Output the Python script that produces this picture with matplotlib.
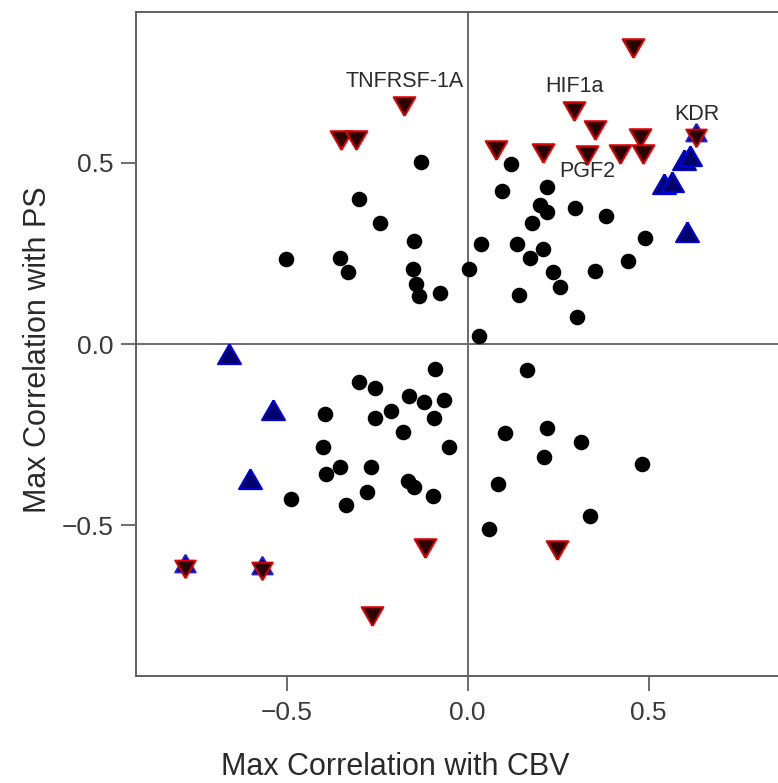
import matplotlib.pyplot as plt

plt.rcParams['font.family'] = ['Liberation Sans', 'DejaVu Sans']

# genes with no significant correlation
dots_cbv = [-0.129, -0.300, -0.242, -0.147, -0.501, -0.353, -0.331, -0.152, -0.142, -0.135,
            -0.076, 0.004, 0.121, 0.096, 0.218, 0.200, 0.220, 0.296, 0.383, 0.177,
            0.491, 0.037, 0.135, 0.208, 0.172, 0.442, 0.237, 0.353, 0.254, 0.142,
            0.301, 0.032,
            -0.089, -0.301, -0.257, -0.163, -0.121, -0.064, -0.211, -0.395, -0.255, -0.092,
            -0.179, -0.051, -0.399, -0.354, -0.390, -0.268, -0.164, -0.147, -0.277, -0.096,
            -0.487, -0.335, 0.165, 0.104, 0.218, 0.314, 0.211, 0.482, 0.084, 0.338, 0.058]
dots_ps = [0.504, 0.400, 0.333, 0.285, 0.234, 0.238, 0.198, 0.206, 0.166, 0.133,
           0.140, 0.207, 0.496, 0.423, 0.433, 0.384, 0.365, 0.377, 0.354, 0.335,
           0.294, 0.276, 0.276, 0.262, 0.237, 0.230, 0.200, 0.202, 0.157, 0.135,
           0.075, 0.022,
           -0.070, -0.106, -0.121, -0.144, -0.161, -0.155, -0.185, -0.193, -0.205, -0.205,
           -0.244, -0.285, -0.285, -0.341, -0.359, -0.341, -0.378, -0.394, -0.408, -0.420,
           -0.429, -0.445, -0.072, -0.245, -0.231, -0.272, -0.311, -0.331, -0.388, -0.474, -0.512]

# significant with PS only
ps_cbv = [-0.175, -0.349, -0.308, 0.457, 0.294, 0.353, 0.475, 0.078, 0.209, 0.331,
          0.422, 0.485, -0.118, -0.264, 0.248]
ps_ps = [0.667, 0.571, 0.571, 0.826, 0.651, 0.599, 0.577, 0.543, 0.536, 0.530,
         0.534, 0.534, -0.555, -0.744, -0.560]

# significant with CBV only
cbv_cbv = [-0.658, -0.539, -0.602, 0.599, 0.615, 0.542, 0.565, 0.606]
cbv_ps = [-0.035, -0.191, -0.380, 0.500, 0.511, 0.435, 0.439, 0.301]

# significant with both
both_cbv = [0.632, -0.781, -0.567]
both_ps = [0.577, -0.613, -0.620]

# labelled genes: (name, cbv, ps, offset in points)
gene_names = ['TNFRSF-1A', 'HIF1a', 'KDR', 'PGF2']
gene_cbv = [-0.175, 0.294, 0.632, 0.331]
gene_ps = [0.667, 0.651, 0.577, 0.530]
gene_dy = [15, 16, 15, -14]

lim = 0.917
ticks = [-0.5, 0.0, 0.5]
tick_labels = ['\u22120.5', '0.0', '0.5']

# equilateral triangles centred on their centroid, so up + down make a star
tri_up = [(0, 1), (-0.866, -0.5), (0.866, -0.5), (0, 1)]
tri_down = [(0, -1), (-0.866, 0.5), (0.866, 0.5), (0, -1)]

fig = plt.figure(figsize=(7.78, 7.83), dpi=100)
W, H = 778, 783
x0, x1, ytop, ybot = 135.7, 799.6, 12, 676
ax = fig.add_axes([x0 / W, 1 - ybot / H, (x1 - x0) / W, (ybot - ytop) / H])
ax.set_xlim(-lim, lim)
ax.set_ylim(-lim, lim)

ax.axhline(0, color='#6a6a6a', lw=1.4, zorder=1)
ax.axvline(0, color='#6a6a6a', lw=1.4, zorder=1)

ax.plot(dots_cbv, dots_ps, 'o', color='black', ms=10.2, mec='black', zorder=3)
ax.plot(ps_cbv, ps_ps, marker=tri_down, ls='none', ms=18, mfc='#2a0000', mec='#e00000',
        mew=1.5, zorder=4)
ax.plot(cbv_cbv, cbv_ps, marker=tri_up, ls='none', ms=19, mfc='#00006a', mec='#0000d8',
        mew=1.5, zorder=4)
ax.plot(both_cbv, both_ps, marker=tri_up, ls='none', ms=17, mfc='#00006a', mec='#2020e0',
        mew=1.4, zorder=5)
ax.plot(both_cbv, both_ps, marker=tri_down, ls='none', ms=17, mfc='#2a0000', mec='#e00000',
        mew=1.4, zorder=6)

for name, gx, gy, dy in zip(gene_names, gene_cbv, gene_ps, gene_dy):
    ax.annotate(name, (gx, gy), xytext=(0, dy), textcoords='offset points',
                ha='center', va='center', fontsize=15.5, color='#2a2a2a', zorder=7)

for side in ['left', 'bottom', 'top', 'right']:
    ax.spines[side].set_color('#606060')
    ax.spines[side].set_linewidth(1.4)

ax.set_xticks(ticks)
ax.set_xticklabels(tick_labels)
ax.set_yticks(ticks)
ax.set_yticklabels(tick_labels)
ax.tick_params(length=11, width=1.3, color='#606060', labelsize=19,
               labelcolor='#3a3a3a')
ax.tick_params(axis='x', pad=7)
ax.tick_params(axis='y', pad=5)

ax.set_xlabel('Max Correlation with CBV', fontsize=22, color='#2a2a2a', va='center')
ax.set_ylabel('Max Correlation with PS', fontsize=22, color='#2a2a2a', va='center')
ax.xaxis.set_label_coords(0.391, -0.137)
ax.yaxis.set_label_coords(-0.147, 0.491)

fig.savefig('out.png', dpi=100)
